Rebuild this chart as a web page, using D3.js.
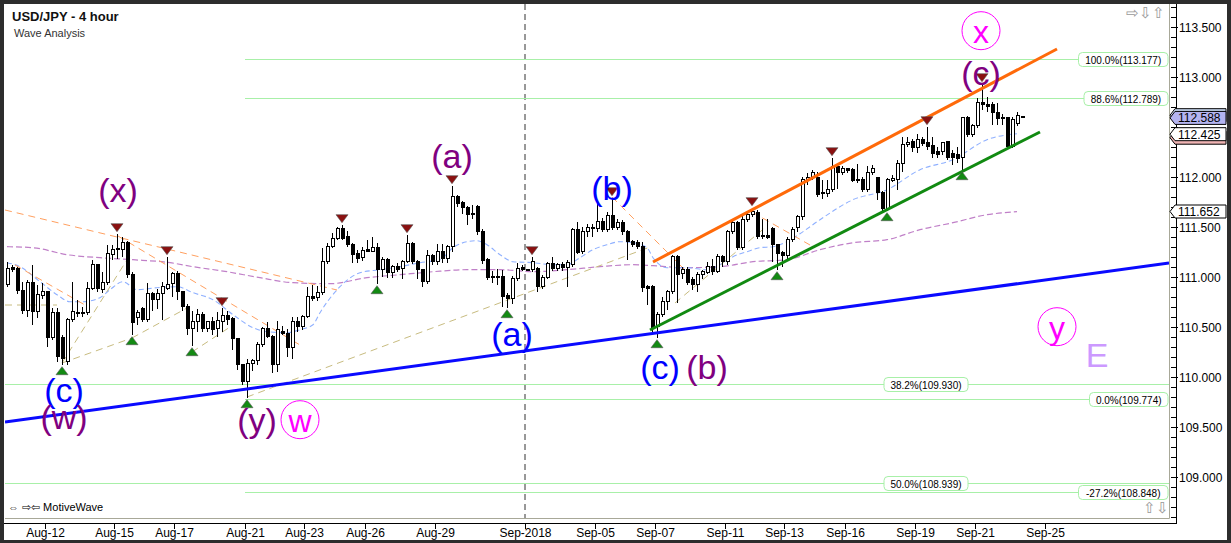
<!DOCTYPE html>
<html><head><meta charset="utf-8">
<script src="https://cdn.jsdelivr.net/npm/d3@7/dist/d3.min.js"></script>
<style>
body{margin:0;background:#fff;overflow:hidden}
svg{display:block;font-family:"Liberation Sans",Arial,sans-serif}
</style></head><body>
<svg id="c" width="1231" height="543"></svg>
<script>
// ---------------- DATA ----------------
const opens = [
110.92,111.09,111.08,110.86,110.66,110.94,110.65,110.81,110.85,110.39,110.64,110.39,
110.15,110.57,110.64,110.64,110.64,110.88,111.12,110.87,110.94,111.22,111.27,111.27,
111.34,111.02,110.59,110.68,110.57,110.83,110.77,110.83,110.88,110.93,111.03,110.85,
110.70,110.48,110.55,110.62,110.48,110.55,110.48,110.55,110.61,110.58,110.38,110.12,
109.95,110.13,110.16,110.32,110.48,110.40,110.12,110.45,110.43,110.29,110.55,110.50,
110.60,110.80,110.79,110.84,111.15,111.30,111.38,111.48,111.40,111.32,111.23,111.19,
111.27,111.25,111.29,111.07,111.17,111.04,111.10,111.08,111.15,111.33,111.15,111.07,
110.95,111.21,111.15,111.25,111.18,111.30,111.80,111.74,111.69,111.63,111.70,111.45,
111.17,111.00,111.00,111.00,110.81,110.78,110.98,111.09,111.07,111.07,111.08,110.90,
110.99,111.13,111.08,111.12,111.09,111.12,111.47,111.25,111.45,111.48,111.48,111.55,
111.47,111.61,111.49,111.54,111.45,111.35,111.34,111.30,110.90,110.90,110.50,110.62,
110.75,110.85,111.20,111.03,111.07,110.97,110.92,111.02,111.04,111.10,111.05,111.20,
111.15,111.45,111.54,111.29,111.57,111.62,111.64,111.41,111.41,111.48,111.32,111.24,
111.21,111.37,111.49,111.60,111.97,111.99,111.99,111.84,111.83,111.87,112.10,112.04,
112.08,112.07,111.97,111.97,111.87,112.04,111.99,111.84,111.68,111.96,111.97,112.13,
112.32,112.35,112.29,112.37,112.34,112.31,112.25,112.25,112.35,112.23,112.22,112.19,
112.59,112.42,112.51,112.74,112.72,112.72,112.64,112.59,112.59,112.30,112.53,112.60];
const highs = [
111.15,111.12,111.10,110.95,110.97,111.12,110.92,110.94,110.86,110.69,110.69,110.42,
110.59,110.95,110.77,110.70,110.95,111.17,111.13,111.05,111.32,111.32,111.43,111.40,
111.36,111.05,110.67,110.70,110.94,110.85,110.88,110.95,111.20,111.05,111.06,110.86,
110.73,110.66,110.68,110.65,110.56,110.60,110.65,110.69,110.66,110.60,110.39,110.13,
110.18,110.18,110.35,110.50,110.55,110.42,110.56,110.51,110.48,110.60,110.60,110.62,
110.90,110.92,110.91,111.29,111.34,111.44,111.50,111.52,111.46,111.34,111.27,111.30,
111.37,111.40,111.34,111.20,111.19,111.12,111.14,111.17,111.42,111.35,111.17,111.08,
111.27,111.23,111.33,111.33,111.32,111.91,111.82,111.76,111.71,111.72,111.72,111.48,
111.19,111.06,111.08,111.07,110.84,111.01,111.14,111.12,111.08,111.20,111.10,111.02,
111.15,111.20,111.14,111.15,111.17,111.49,111.55,111.50,111.53,111.53,111.74,111.59,
111.65,111.79,111.58,111.57,111.47,111.37,111.37,111.35,110.92,110.92,110.65,110.80,
110.87,111.22,111.22,111.10,111.10,111.00,111.05,111.07,111.15,111.18,111.23,111.22,
111.47,111.57,111.56,111.62,111.64,111.69,111.67,111.58,111.58,111.50,111.33,111.26,
111.40,111.50,111.62,112.00,112.04,112.07,112.05,111.97,111.97,112.19,112.12,112.11,
112.09,112.09,112.13,112.00,112.11,112.12,112.00,111.86,111.99,112.02,112.17,112.40,
112.40,112.38,112.43,112.40,112.50,112.40,112.30,112.35,112.36,112.27,112.30,112.60,
112.61,112.53,112.79,112.93,112.80,112.75,112.74,112.63,112.60,112.60,112.65,112.61];
const lows = [
110.90,111.05,110.83,110.63,110.60,110.52,110.59,110.78,110.30,110.37,110.15,110.12,
110.12,110.55,110.60,110.60,110.62,110.87,110.85,110.84,110.92,111.17,111.18,111.20,
110.99,110.42,110.52,110.55,110.55,110.66,110.68,110.57,110.87,110.80,110.77,110.66,
110.42,110.31,110.45,110.45,110.45,110.42,110.40,110.45,110.52,110.27,110.07,109.92,
109.79,110.06,110.12,110.30,110.39,110.04,110.05,110.42,110.20,110.18,110.45,110.47,
110.59,110.76,110.76,110.82,111.13,111.29,111.37,111.37,111.30,111.14,111.14,111.16,
111.25,111.25,110.93,111.00,110.99,110.99,111.05,110.98,111.14,111.13,110.98,110.90,
110.93,111.12,111.12,111.14,111.14,111.25,111.70,111.63,111.52,111.58,111.42,111.13,
110.97,110.94,110.92,110.70,110.69,110.73,110.96,111.06,111.06,111.05,110.85,110.88,
110.98,111.06,111.06,111.06,110.90,111.10,111.23,111.23,111.40,111.40,111.45,111.45,
111.45,111.47,111.47,111.42,111.17,111.30,111.28,110.85,110.72,110.44,110.39,110.60,
110.67,110.83,110.74,110.98,110.92,110.87,110.85,110.98,111.03,111.02,111.04,111.10,
111.12,111.43,111.27,111.27,111.55,111.60,111.38,111.38,111.38,111.15,111.07,111.10,
111.17,111.35,111.45,111.57,111.92,111.97,111.80,111.78,111.80,111.85,111.88,112.02,
112.04,111.95,111.94,111.85,111.85,112.02,111.77,111.66,111.66,111.95,111.87,112.05,
112.30,112.25,112.24,112.31,112.27,112.19,112.19,112.22,112.17,112.12,112.14,112.07,
112.40,112.40,112.49,112.67,112.65,112.52,112.52,112.52,112.29,112.29,112.51,112.59];
const closes = [
111.08,111.07,110.86,110.66,110.94,110.65,110.82,110.85,110.39,110.64,110.20,110.18,
110.57,110.65,110.63,110.64,110.88,111.12,110.88,110.94,111.23,111.27,111.28,111.34,
111.02,110.54,110.64,110.57,110.83,110.77,110.83,110.90,110.92,111.03,110.85,110.70,
110.48,110.55,110.62,110.48,110.55,110.47,110.56,110.61,110.57,110.38,110.12,109.95,
110.13,110.16,110.32,110.48,110.40,110.12,110.47,110.43,110.29,110.55,110.50,110.60,
110.80,110.78,110.84,111.15,111.30,111.38,111.48,111.38,111.32,111.22,111.18,111.26,
111.25,111.29,111.07,111.17,111.04,111.10,111.07,111.15,111.33,111.15,111.07,110.95,
111.21,111.15,111.25,111.18,111.30,111.80,111.73,111.69,111.62,111.62,111.45,111.16,
110.99,110.99,110.99,110.80,110.78,110.98,111.08,111.07,111.07,111.15,110.90,110.99,
111.13,111.08,111.12,111.09,111.14,111.47,111.24,111.45,111.49,111.49,111.55,111.47,
111.61,111.49,111.54,111.45,111.35,111.32,111.30,110.89,110.88,110.49,110.62,110.75,
110.85,111.20,111.02,111.07,110.94,110.92,111.02,111.05,111.10,111.05,111.20,111.15,
111.45,111.54,111.29,111.57,111.62,111.65,111.40,111.40,111.39,111.32,111.23,111.21,
111.37,111.47,111.60,111.97,111.99,112.04,111.82,111.83,111.87,112.10,112.04,112.08,
112.06,111.96,111.96,111.87,112.04,112.08,111.84,111.68,111.97,111.98,112.13,112.32,
112.34,112.29,112.37,112.33,112.30,112.23,112.22,112.34,112.19,112.19,112.18,112.59,
112.42,112.51,112.74,112.72,112.70,112.64,112.58,112.58,112.30,112.57,112.61,112.59];

// x-axis date labels and the candle index where each day starts
const dateLabels = ["Aug-12","Aug-15","Aug-17","Aug-21","Aug-23","Aug-26","Aug-29","Sep-2018","Sep-05","Sep-07","Sep-11","Sep-13","Sep-16","Sep-19","Sep-21","Sep-25"];
const dateIndex  = [8,22,34,48,60,72,86,104,118,130,144,156,168,182,194,208];
const monthBreakIndex = 104;

// price axis ticks
const priceTicks = [109.0,109.5,110.0,110.5,111.0,111.5,112.0,112.5,113.0,113.5];

// moving averages: [candle index, price]
const maFast = [[0,111.14],[2.6,111.10],[6.6,110.95],[10,110.82],[12.6,110.75],[15.2,110.75],[18.6,110.79],[20.6,110.87],[23.2,110.95],[26,110.87],[30,110.89],[34,110.90],[37.2,110.84],[41.2,110.77],[45.2,110.62],[49.2,110.49],[52,110.45],[56,110.44],[58.6,110.47],[61.2,110.52],[62.6,110.64],[66.6,110.90],[70.6,111.04],[74.6,111.07],[78.6,111.10],[82.6,111.14],[86.6,111.17],[89.2,111.29],[92,111.35],[94,111.36],[96,111.32],[98.6,111.22],[101.2,111.15],[105.2,111.14],[109.2,111.12],[112,111.12],[114.6,111.19],[117.2,111.27],[120,111.32],[122.6,111.35],[125.2,111.34],[128,111.29],[129.2,111.19],[132,111.09],[136,111.09],[140,111.07],[142.6,111.12],[145.2,111.20],[148,111.25],[150.6,111.29],[153.2,111.30],[156,111.35],[158.6,111.43],[162.6,111.57],[169.2,111.77],[176,111.87],[182.6,112.07],[189.2,112.17],[196,112.37],[202,112.43]];
const maSlow = [[0,111.30],[5.2,111.29],[12,111.22],[18.6,111.19],[25.2,111.17],[32.6,111.14],[37.2,111.10],[44,111.05],[50.6,110.99],[57.2,110.94],[64.6,110.93],[72,110.99],[78.6,111.02],[85.2,111.05],[92,111.07],[98.6,111.07],[105.2,111.05],[112,111.07],[118.6,111.10],[125.2,111.12],[129.2,111.11],[136,111.09],[142.6,111.10],[149.2,111.15],[156,111.17],[162.6,111.27],[169.2,111.34],[176,111.37],[182.6,111.47],[189.2,111.54],[196,111.62],[202,111.65]];

// swing markers (candle indices)
const swingHighIdx = [22,32,43,67,80,89,105,121,149,165,184,195];
const swingLowIdx  = [11,25,37,48,74,100,130,154,176,191];

// trend lines: [[idx0,price0],[idx1,price1]]
const trendBlue   = [[-0.4,109.547],[232.4,111.137]];
const trendGreen  = [[128.6,110.467],[206.6,112.447]];
const trendOrange = [[129.2,111.147],[210,113.277]];
const dashOrange = [
 [[-0.4,111.667],[66,110.867]],
 [[22.2,111.407],[58.6,110.317]],
 [[1.6,111.117],[15.6,110.717]],
 [[121,111.797],[136.6,111.017]],
 [[149,111.647],[160.6,111.317]]];
const dashTan = [
 [[11,110.137],[25,110.387]],
 [[11,110.137],[24.6,111.217]],
 [[25,110.387],[36,110.687]],
 [[37,110.247],[44.6,110.497]],
 [[48,109.797],[128.6,111.297]],
 [[-0.4,110.717],[10,110.717]],
 [[133.6,110.737],[152,111.507]]];

// Fibonacci levels
const fibLabels = ["100.0%(113.177)","88.6%(112.789)","0.0%(109.774)","-27.2%(108.848)","38.2%(109.930)","50.0%(108.939)"];
const fibPrices = [113.177,112.789,109.774,108.848,109.930,108.939];
const fibStart  = [47.6,47.6,47.6,47.6,-0.4,-0.4];
const fibRight  = [true,true,true,true,false,false];

// wave labels
const waveText  = ["(c)","(w)","(x)","(y)","(a)","(a)","(b)","(c)","(b)","(c)"];
const waveIdx   = [11.4,11.4,22.2,50,89,101,121,130.6,140,194.8];
const wavePrice = [109.87,109.60,111.87,109.57,112.21,110.43,111.89,110.10,110.10,113.04];
const waveColor = ["#0000ff","#800080","#800080","#800080","#800080","#0000ff","#0000ff","#0000ff","#800080","#800080"];
const circText  = ["w","x","y"];
const circIdx   = [58.6,194.8,210];
const circPrice = [109.57,113.46,110.50];

// price tags on axis
const tagValues = [112.615,112.588,112.39,112.425,111.652];
const tagShowText = [true,true,false,true,true];

// ---------------- DRAW ----------------
const W=1231,H=543, L=5, R=1169, T=4, B=518;
const svg=d3.select("#c");
const x=d3.scaleLinear().domain([-0.4,232.4]).range([L,R]);
const y=d3.scaleLinear().domain([108.587,113.727]).range([B,T]);

svg.append("rect").attr("width",W).attr("height",H).attr("fill","#fff");
svg.append("defs").append("clipPath").attr("id","pc").append("rect")
  .attr("x",L).attr("y",T).attr("width",R-L).attr("height",B-T);
const g=svg.append("g").attr("clip-path","url(#pc)");

// month break
g.append("line").attr("x1",x(monthBreakIndex-0.5)+0.5).attr("x2",x(monthBreakIndex-0.5)+0.5)
 .attr("y1",T).attr("y2",B).attr("stroke","#333").attr("stroke-dasharray","6,4");

function fibBox(i){
  const txt=fibLabels[i];
  const tw=txt.length*5.5+7;
  return fibRight[i] ? [R-tw-1,tw] : [884,tw];
}
// fib lines
fibPrices.forEach((p,i)=>{
  const yy=Math.round(y(p))+0.5;
  const [bx0]=fibBox(i);
  g.append("line").attr("x1",x(fibStart[i])).attr("x2",fibRight[i]?bx0:R).attr("y1",yy).attr("y2",yy)
    .attr("stroke","#a8f0a8").attr("stroke-width",1);
});

// moving averages
const lineG=d3.line().x(d=>x(d[0])).y(d=>y(d[1])).curve(d3.curveMonotoneX);
g.append("path").datum(maSlow).attr("d",lineG).attr("fill","none").attr("stroke","#c080c8").attr("stroke-width",1.2).attr("stroke-dasharray","6,3");
g.append("path").datum(maFast).attr("d",lineG).attr("fill","none").attr("stroke","#8fb0ff").attr("stroke-width",1.1).attr("stroke-dasharray","5,3");

// thin dashed swing lines
const seg=d3.line().x(d=>x(d[0])).y(d=>y(d[1]));
dashOrange.forEach(s=>g.append("path").attr("d",seg(s)).attr("fill","none").attr("stroke","#ffa060").attr("stroke-width",1).attr("stroke-dasharray","7,5"));
dashTan.forEach(s=>g.append("path").attr("d",seg(s)).attr("fill","none").attr("stroke","#c8bc80").attr("stroke-width",1).attr("stroke-dasharray","7,5"));

// candles
const cg=g.append("g").attr("shape-rendering","crispEdges");
d3.range(opens.length).forEach(i=>{
  const cx=Math.round(x(i))+0.5;
  cg.append("line").attr("x1",cx).attr("x2",cx).attr("y1",y(highs[i])).attr("y2",y(lows[i])).attr("stroke","#000");
  const up=closes[i]>=opens[i];
  const top=y(Math.max(opens[i],closes[i])), bot=y(Math.min(opens[i],closes[i]));
  cg.append("rect").attr("x",cx-1.5).attr("y",top).attr("width",3).attr("height",Math.max(1,bot-top))
    .attr("fill",up?"#fff":"#000").attr("stroke","#000").attr("stroke-width",1);
});

// thick trend lines
[[trendBlue,"#0a0aff"],[trendGreen,"#118a11"],[trendOrange,"#ff6a0a"]].forEach(([s,c])=>
  g.append("path").attr("d",seg(s)).attr("stroke",c).attr("stroke-width",3).attr("fill","none"));

// swing markers
swingHighIdx.forEach(i=>{
  const cx=x(i), yy=y(highs[i])-2;
  g.append("path").attr("d",`M${cx-6},${yy-8}L${cx+6},${yy-8}L${cx},${yy}Z`).attr("fill","#8b1010").attr("stroke","#555").attr("stroke-width",0.6);
});
swingLowIdx.forEach(i=>{
  const cx=x(i), yy=y(lows[i])+2;
  g.append("path").attr("d",`M${cx-6},${yy+8}L${cx+6},${yy+8}L${cx},${yy}Z`).attr("fill","#138a13").attr("stroke","#555").attr("stroke-width",0.6);
});

// fib labels
fibPrices.forEach((p,i)=>{
  const yy=Math.round(y(p))+0.5;
  const [bx0,tw]=fibBox(i);
  g.append("rect").attr("x",bx0).attr("y",yy-7).attr("width",tw).attr("height",14).attr("rx",4)
    .attr("fill","#fff").attr("stroke","#a8f0a8");
  g.append("text").attr("x",bx0+tw/2).attr("y",yy+4).attr("text-anchor","middle").attr("font-size",10).attr("fill","#000").text(fibLabels[i]);
});

// wave labels
waveText.forEach((t,i)=>{
  g.append("text").attr("x",x(waveIdx[i])).attr("y",y(wavePrice[i])).attr("text-anchor","middle")
   .attr("dominant-baseline","central").attr("font-size",34).attr("fill",waveColor[i]).text(t);
});
circText.forEach((t,i)=>{
  const cx=x(circIdx[i]), cy=y(circPrice[i]);
  g.append("circle").attr("cx",cx).attr("cy",cy).attr("r",19).attr("fill","none").attr("stroke","#ff00ff").attr("stroke-width",1);
  g.append("text").attr("x",cx).attr("y",cy+1).attr("text-anchor","middle").attr("dominant-baseline","central")
   .attr("font-size",32).attr("fill","#ff00ff").text(t);
});
g.append("text").attr("x",x(218)).attr("y",y(110.22)).attr("text-anchor","middle").attr("dominant-baseline","central")
 .attr("font-size",34).attr("fill","#cc99ff").text("E");

// frame of plot
svg.append("line").attr("x1",L).attr("x2",R+0.5).attr("y1",B+0.5).attr("y2",B+0.5).attr("stroke","#a8a898");
svg.append("line").attr("x1",R+0.5).attr("x2",R+0.5).attr("y1",T).attr("y2",B+0.5).attr("stroke","#a8a898");

// right price axis
const ax=svg.append("g").attr("transform",`translate(${R+1},0)`).attr("shape-rendering","crispEdges");
ax.append("line").attr("x1",6.5).attr("x2",6.5).attr("y1",T).attr("y2",524).attr("stroke","#000");
d3.range(108.6,113.75,0.1).forEach(p=>{
  const yy=Math.round(y(p))+0.5;
  if(yy<T||yy>B) return;
  ax.append("line").attr("x1",1).attr("x2",6).attr("y1",yy).attr("y2",yy).attr("stroke","#000");
});
const tagY = tagValues.map(v=>y(v));
priceTicks.forEach(p=>{
  const yy=Math.round(y(p))+0.5;
  ax.append("line").attr("x1",1).attr("x2",8).attr("y1",yy).attr("y2",yy).attr("stroke","#000");
  const hidden = tagY.some(t=>Math.abs(t-yy)<12);   // label covered by a price tag
  if(!hidden) ax.append("text").attr("x",9).attr("y",yy+4.5).attr("font-size",12).attr("fill","#000").text(d3.format(".3f")(p));
});

// price tags
const tagFill=["#c8d8f0","#b4b4f0","#f0b4b4","#fff","#fff"];
tagValues.forEach((v,i)=>{
  const cy=y(v), t=cy-6.5, b=cy+6.5;
  svg.append("path").attr("d",`M${R+1},${cy}L${R+6},${t}L1226,${t}L1226,${b}L${R+6},${b}Z`)
    .attr("fill",tagFill[i]).attr("stroke","#000").attr("stroke-width",1);
  if(tagShowText[i]) svg.append("text").attr("x",R+9).attr("y",cy+4.5).attr("font-size",12).attr("fill","#000").text(d3.format(".3f")(v));
});

// bottom axis
const bx=svg.append("g").attr("shape-rendering","crispEdges");
bx.append("line").attr("x1",4).attr("x2",R+8).attr("y1",523.5).attr("y2",523.5).attr("stroke","#000");
dateIndex.forEach((di,i)=>{
  const xx=Math.round(x(di-0.5))+0.5;
  bx.append("line").attr("x1",xx).attr("x2",xx).attr("y1",524).attr("y2",529).attr("stroke","#000");
  bx.append("text").attr("x",xx).attr("y",537).attr("text-anchor","middle").attr("font-size",12).attr("fill","#000").text(dateLabels[i]);
});

// titles
svg.append("text").attr("x",12).attr("y",21).attr("font-size",13).attr("font-weight","bold").attr("fill","#111").text("USD/JPY - 4 hour");
svg.append("text").attr("x",14).attr("y",37).attr("font-size",11).attr("fill","#333").text("Wave Analysis");
svg.append("text").attr("x",8).attr("y",511).attr("font-size",11).attr("fill","#000").text("⇔ ⇨⇦ MotiveWave");
svg.append("text").attr("x",1126).attr("y",18).attr("font-size",15).attr("fill","#999").text("⇨⇩⇧");
svg.append("text").attr("x",1143).attr("y",513).attr("font-size",15).attr("fill","#999").text("⇧⇩");

// outer borders
svg.append("rect").attr("x",0).attr("y",0).attr("width",W).attr("height",4).attr("fill","#2d2d2d");
svg.append("rect").attr("x",0).attr("y",0).attr("width",4).attr("height",H).attr("fill","#2d2d2d");
svg.append("rect").attr("x",1227).attr("y",0).attr("width",4).attr("height",H).attr("fill","#2d2d2d");
svg.append("rect").attr("x",0).attr("y",540).attr("width",W).attr("height",3).attr("fill","#2d2d2d");
</script></body></html>
